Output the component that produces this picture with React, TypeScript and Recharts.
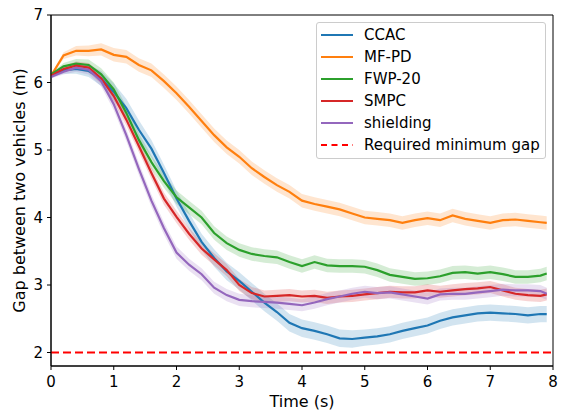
import React from 'react';
import { ComposedChart, Line, Area, XAxis, YAxis, Legend, ReferenceLine, ReferenceArea } from 'recharts';

const FONT = '"DejaVu Sans", sans-serif';

// time axis (s)
const time = [
  0, 0.2, 0.4, 0.6, 0.8, 1.0, 1.2, 1.4, 1.6, 1.8, 2.0, 2.2, 2.4, 2.6, 2.8, 3.0, 3.2, 3.4, 3.6, 3.8,
  4.0, 4.2, 4.4, 4.6, 4.8, 5.0, 5.2, 5.4, 5.6, 5.8, 6.0, 6.2, 6.4, 6.6, 6.8, 7.0, 7.2, 7.4, 7.6, 7.8, 7.9,
];

// mean gap per controller (m)
const ccac = [
  6.10, 6.18, 6.20, 6.17, 6.06, 5.86, 5.62, 5.30, 5.02, 4.66, 4.28, 3.95, 3.64, 3.40, 3.20, 3.06, 2.90, 2.74, 2.60, 2.44,
  2.36, 2.32, 2.27, 2.21, 2.20, 2.22, 2.24, 2.27, 2.32, 2.36, 2.40, 2.47, 2.52, 2.55, 2.58, 2.59, 2.58, 2.57, 2.55, 2.57, 2.57,
];
const mfpd = [
  6.10, 6.40, 6.47, 6.47, 6.49, 6.41, 6.38, 6.26, 6.18, 6.02, 5.84, 5.64, 5.43, 5.22, 5.04, 4.90, 4.73, 4.60, 4.48, 4.38,
  4.25, 4.20, 4.16, 4.12, 4.06, 4.00, 3.98, 3.96, 3.92, 3.96, 3.99, 3.96, 4.03, 3.98, 3.95, 3.92, 3.96, 3.97, 3.95, 3.93, 3.92,
];
const fwp20 = [
  6.12, 6.24, 6.28, 6.26, 6.12, 5.90, 5.55, 5.15, 4.82, 4.54, 4.30, 4.15, 4.00, 3.77, 3.62, 3.52, 3.46, 3.43, 3.41, 3.34,
  3.28, 3.34, 3.29, 3.28, 3.28, 3.27, 3.22, 3.15, 3.12, 3.09, 3.10, 3.13, 3.18, 3.19, 3.17, 3.19, 3.16, 3.12, 3.12, 3.14, 3.17,
];
const smpc = [
  6.10, 6.20, 6.25, 6.22, 6.06, 5.80, 5.45, 5.06, 4.66, 4.28, 4.01, 3.76, 3.54, 3.38, 3.22, 3.00, 2.88, 2.83, 2.84, 2.85,
  2.83, 2.84, 2.81, 2.83, 2.84, 2.86, 2.88, 2.90, 2.89, 2.89, 2.92, 2.90, 2.92, 2.94, 2.95, 2.97, 2.92, 2.87, 2.85, 2.84, 2.86,
];
const shielding = [
  6.08, 6.16, 6.22, 6.19, 6.02, 5.68, 5.22, 4.72, 4.25, 3.84, 3.48, 3.30, 3.16, 2.96, 2.85, 2.78, 2.76, 2.75, 2.74, 2.72,
  2.70, 2.74, 2.79, 2.83, 2.87, 2.90, 2.88, 2.89, 2.86, 2.83, 2.80, 2.86, 2.87, 2.87, 2.89, 2.91, 2.93, 2.92, 2.92, 2.91, 2.87,
];

// half-width of the shaded band around each mean (m)
const ccacSpread = [
  0.02, 0.05, 0.07, 0.09, 0.11, 0.13, 0.14, 0.14, 0.13, 0.12, 0.12, 0.12, 0.12, 0.13, 0.13, 0.13, 0.13, 0.13, 0.13, 0.13,
  0.13, 0.13, 0.13, 0.13, 0.13, 0.12, 0.12, 0.12, 0.12, 0.12, 0.12, 0.12, 0.12, 0.12, 0.12, 0.12, 0.12, 0.12, 0.12, 0.12, 0.12,
];
const mfpdSpread = [
  0.02, 0.05, 0.07, 0.08, 0.09, 0.1, 0.1, 0.1, 0.1, 0.1, 0.1, 0.1, 0.1, 0.1, 0.1, 0.1, 0.1, 0.1, 0.1, 0.1,
  0.1, 0.1, 0.1, 0.1, 0.1, 0.1, 0.1, 0.1, 0.1, 0.1, 0.1, 0.1, 0.1, 0.1, 0.1, 0.1, 0.1, 0.1, 0.1, 0.1, 0.1,
];
const fwp20Spread = [
  0.02, 0.05, 0.07, 0.08, 0.09, 0.1, 0.1, 0.1, 0.1, 0.1, 0.1, 0.1, 0.1, 0.1, 0.1, 0.1, 0.1, 0.1, 0.1, 0.1,
  0.1, 0.1, 0.1, 0.1, 0.1, 0.1, 0.1, 0.1, 0.1, 0.1, 0.1, 0.1, 0.1, 0.1, 0.1, 0.1, 0.1, 0.1, 0.1, 0.1, 0.1,
];
const smpcSpread = [
  0.02, 0.04, 0.06, 0.07, 0.08, 0.09, 0.09, 0.09, 0.09, 0.09, 0.09, 0.09, 0.09, 0.09, 0.09, 0.09, 0.09, 0.09, 0.09, 0.09,
  0.09, 0.09, 0.09, 0.09, 0.09, 0.09, 0.09, 0.09, 0.09, 0.09, 0.09, 0.09, 0.09, 0.09, 0.09, 0.09, 0.09, 0.09, 0.09, 0.09, 0.09,
];
const shieldingSpread = [
  0.02, 0.04, 0.06, 0.07, 0.08, 0.09, 0.09, 0.09, 0.09, 0.09, 0.09, 0.09, 0.09, 0.09, 0.09, 0.09, 0.09, 0.09, 0.09, 0.09,
  0.09, 0.09, 0.09, 0.09, 0.09, 0.09, 0.09, 0.09, 0.09, 0.09, 0.09, 0.09, 0.09, 0.09, 0.09, 0.09, 0.09, 0.09, 0.09, 0.09, 0.09,
];

const minGap = 2;
const xTicks = [0, 1, 2, 3, 4, 5, 6, 7, 8];
const yTicks = [2, 3, 4, 5, 6, 7];

const series = [
  { key: 'ccac', name: 'CCAC', color: '#1f77b4', values: ccac, spread: ccacSpread },
  { key: 'mfpd', name: 'MF-PD', color: '#ff7f0e', values: mfpd, spread: mfpdSpread },
  { key: 'fwp20', name: 'FWP-20', color: '#2ca02c', values: fwp20, spread: fwp20Spread },
  { key: 'smpc', name: 'SMPC', color: '#d62728', values: smpc, spread: smpcSpread },
  { key: 'shielding', name: 'shielding', color: '#9467bd', values: shielding, spread: shieldingSpread },
];

const data = time.map((t, i) => {
  const row: any = { t };
  series.forEach((s) => {
    row[s.key] = s.values[i];
    row[s.key + 'Band'] = [s.values[i] - s.spread[i], s.values[i] + s.spread[i]];
  });
  return row;
});

const legendItems = [
  ...series.map((s) => ({ name: s.name, color: s.color, dashed: false })),
  { name: 'Required minimum gap', color: '#ff0000', dashed: true },
];

function LegendBox() {
  return (
    <div
      style={{
        width: 230,
        boxSizing: 'border-box',
        border: '1px solid #cccccc',
        borderRadius: 3,
        background: 'rgba(255,255,255,0.8)',
        padding: '1px 4px 2px 4px',
        fontFamily: FONT,
        fontSize: 15,
        color: '#000',
      }}
    >
      {legendItems.map((item) => (
        <div key={item.name} style={{ display: 'flex', alignItems: 'center', height: 22 }}>
          <svg width={32} height={10} style={{ display: 'block' }}>
            <line
              x1={0}
              y1={5}
              x2={32}
              y2={5}
              stroke={item.color}
              strokeWidth={2}
              strokeDasharray={item.dashed ? '6 4.5' : undefined}
            />
          </svg>
          <span style={{ marginLeft: 11, lineHeight: '22px' }}>{item.name}</span>
        </div>
      ))}
    </div>
  );
}

const tickStyle = { fontSize: 15, fill: '#000', fontFamily: FONT };

export default function App() {
  return (
    <div style={{ position: 'absolute', left: 0, top: 0, width: 561, height: 411, background: '#fff' }}>
      <ComposedChart
        width={561}
        height={411}
        data={data}
        margin={{ top: 15, right: 8, bottom: 0, left: 0 }}
        style={{ fontFamily: FONT }}
      >
        <XAxis
          dataKey="t"
          type="number"
          domain={[0, 8]}
          ticks={xTicks}
          height={45}
          tick={tickStyle}
          tickSize={4}
          tickMargin={6}
          axisLine={{ stroke: '#000' }}
          tickLine={{ stroke: '#000' }}
          label={({ viewBox }: any) => (
            <text
              x={viewBox.x + viewBox.width / 2}
              y={viewBox.y + 41}
              textAnchor="middle"
              fontSize={16}
              fontFamily={FONT}
              fill="#000"
            >
              Time (s)
            </text>
          )}
        />
        <YAxis
          type="number"
          domain={[1.8, 7]}
          ticks={yTicks}
          width={51}
          tick={tickStyle}
          tickSize={4}
          tickMargin={4}
          axisLine={{ stroke: '#000' }}
          tickLine={{ stroke: '#000' }}
          allowDataOverflow
          label={({ viewBox }: any) => {
            const x = viewBox.x + 19;
            const y = viewBox.y + viewBox.height / 2;
            return (
              <text
                x={x}
                y={y}
                transform={`rotate(-90, ${x}, ${y})`}
                textAnchor="middle"
                dominantBaseline="central"
                fontSize={16}
                fontFamily={FONT}
                fill="#000"
              >
                Gap between two vehicles (m)
              </text>
            );
          }}
        />
        <ReferenceArea x1={0} x2={8} y1={1.8} y2={7} fill="none" stroke="#000" strokeWidth={1} />
        {series.map((s) => (
          <Area
            key={s.key + 'Band'}
            dataKey={s.key + 'Band'}
            stroke="none"
            fill={s.color}
            fillOpacity={0.2}
            isAnimationActive={false}
            activeDot={false}
            legendType="none"
          />
        ))}
        <ReferenceLine y={minGap} stroke="#ff0000" strokeWidth={2} strokeDasharray="8 4" />
        {series.map((s) => (
          <Line
            key={s.key}
            dataKey={s.key}
            name={s.name}
            stroke={s.color}
            strokeWidth={2.2}
            dot={false}
            activeDot={false}
            isAnimationActive={false}
          />
        ))}
        <Legend
          layout="vertical"
          align="center"
          verticalAlign="middle"
          content={() => <LegendBox />}
          wrapperStyle={{ top: 22, left: 316, width: 230 }}
        />
      </ComposedChart>
    </div>
  );
}
